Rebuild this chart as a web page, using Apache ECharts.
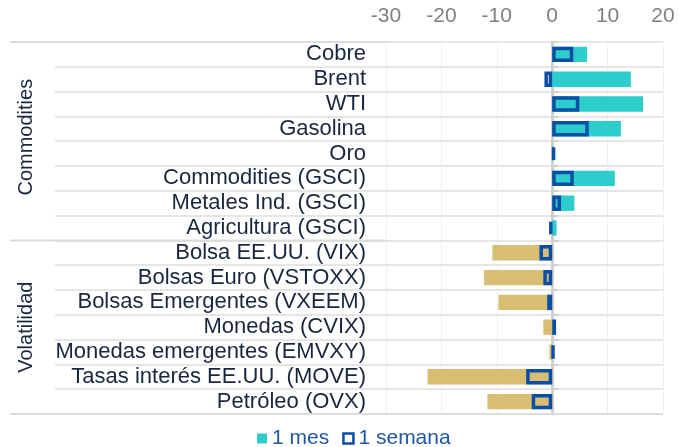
<!DOCTYPE html>
<html>
<head>
<meta charset="utf-8">
<script src="https://cdn.jsdelivr.net/npm/echarts@6/dist/echarts.min.js"></script>
<style>
html, body { margin: 0; padding: 0; background: #fff; }
#chart { width: 679px; height: 447px; }
</style>
</head>
<body>
<div id="chart"></div>
<script>
// categorías, de arriba hacia abajo
var categorias = [
    'Cobre', 'Brent', 'WTI', 'Gasolina', 'Oro', 'Commodities (GSCI)',
    'Metales Ind. (GSCI)', 'Agricultura (GSCI)',
    'Bolsa EE.UU. (VIX)', 'Bolsas Euro (VSTOXX)', 'Bolsas Emergentes (VXEEM)',
    'Monedas (CVIX)', 'Monedas emergentes (EMVXY)', 'Tasas interés EE.UU. (MOVE)',
    'Petróleo (OVX)'
];
var grupos = ['Commodities', 'Volatilidad'];
var filasPorGrupo = [8, 7];
// variación 1 mes y 1 semana
var mes = [6.3, 14.2, 16.4, 12.4, 0.2, 11.3, 4.0, 0.8, -10.8, -12.3, -9.7, -1.6, -0.5, -22.5, -11.7];
var semana = [3.8, -1.4, 4.9, 6.6, 0.5, 3.9, 1.6, -0.5, -2.3, -1.6, -0.9, 0.7, 0.3, -4.7, -3.7];
// eje x
var ejeMin = -30, ejeMax = 20, ejeIntervalo = 10;

var fuente = "'Liberation Sans', Arial, sans-serif";
var colTeal = '#2ecdcd';
var colOro = '#d8be73';
var colAzul = '#0b4ea6';
var colTexto = '#18273f';

var W = 679, H = 447;
var gTop = 42, gBottom = 33, gLeft = 386, gRight = 16;
var altoFila = (H - gTop - gBottom) / categorias.length;

var chart = echarts.init(document.getElementById('chart'));

// textos de grupo y líneas separadoras de grupo
var graficos = [];
var acum = 0;
graficos.push({ type: 'line', z: 1, shape: { x1: 10, y1: gTop, x2: gLeft, y2: gTop }, style: { stroke: '#dcdcdc', lineWidth: 2 } });
grupos.forEach(function (g, i) {
    var y0 = gTop + acum * altoFila;
    acum += filasPorGrupo[i];
    var y1 = gTop + acum * altoFila;
    graficos.push({ type: 'line', z: 1, shape: { x1: 10, y1: y1, x2: gLeft, y2: y1 }, style: { stroke: '#dcdcdc', lineWidth: 2 } });
    graficos.push({
        type: 'text', x: 26, y: (y0 + y1) / 2 - (i === 0 ? 4 : 0), rotation: Math.PI / 2,
        style: { text: g, fontSize: 20, fontFamily: fuente, fill: colTexto, align: 'center', verticalAlign: 'middle' }
    });
});
// línea inferior a lo ancho del gráfico
graficos.push({ type: 'line', z: 1, shape: { x1: gLeft, y1: H - gBottom, x2: W - gRight, y2: H - gBottom }, style: { stroke: '#dcdcdc', lineWidth: 2 } });

chart.setOption({
    animation: false,
    grid: { left: gLeft, right: gRight, top: gTop, bottom: gBottom, containLabel: false },
    graphic: graficos,
    legend: {
        left: 252, top: 423, itemWidth: 10, itemHeight: 10, itemGap: 13,
        textStyle: { fontSize: 21, fontFamily: fuente, color: '#1f57a4' },
        data: [
            { name: '1 mes', icon: 'rect' },
            { name: '1 semana', icon: 'rect', itemStyle: { color: '#fff', borderColor: colAzul, borderWidth: 2.5 } }
        ]
    },
    xAxis: {
        type: 'value', position: 'top', min: ejeMin, max: ejeMax, interval: ejeIntervalo,
        axisLine: { show: false }, axisTick: { show: false },
        axisLabel: { fontSize: 21, fontFamily: fuente, color: '#808080', margin: 15 },
        splitLine: { show: true, lineStyle: { type: 'dotted', color: '#e2e2e2', width: 1 } }
    },
    yAxis: [
        {
            type: 'category', data: categorias, inverse: true,
            axisLine: { show: false, onZero: false },
            axisTick: { show: true, interval: 0, length: gLeft - 55, lineStyle: { color: '#e6e6e6', width: 2 } },
            axisLabel: { interval: 0, fontSize: 22, fontFamily: fuente, color: colTexto, margin: 20 },
            splitLine: { show: true, interval: 0, lineStyle: { color: '#e6e6e6', width: 2 } }
        },
        {
            type: 'category', data: categorias, inverse: true,
            axisLine: { show: true, onZero: true, lineStyle: { color: '#d0d0d0', width: 3 } },
            axisTick: { show: true, interval: 0, length: 6, lineStyle: { color: '#d0d0d0', width: 2 } },
            axisLabel: { show: false },
            splitLine: { show: false }
        }
    ],
    series: [
        {
            name: '1 mes', type: 'bar', yAxisIndex: 0, barWidth: '62%', barGap: '-100%',
            itemStyle: { color: colTeal },
            data: mes.map(function (v, i) {
                return { value: v, itemStyle: { color: i < filasPorGrupo[0] ? colTeal : colOro } };
            })
        },
        {
            name: '1 semana', type: 'bar', yAxisIndex: 0, barWidth: '62%', barGap: '-100%', z: 3,
            itemStyle: { color: 'rgba(0,0,0,0)', borderColor: colAzul, borderWidth: 3.5 },
            data: semana
        }
    ]
});
</script>
</body>
</html>
